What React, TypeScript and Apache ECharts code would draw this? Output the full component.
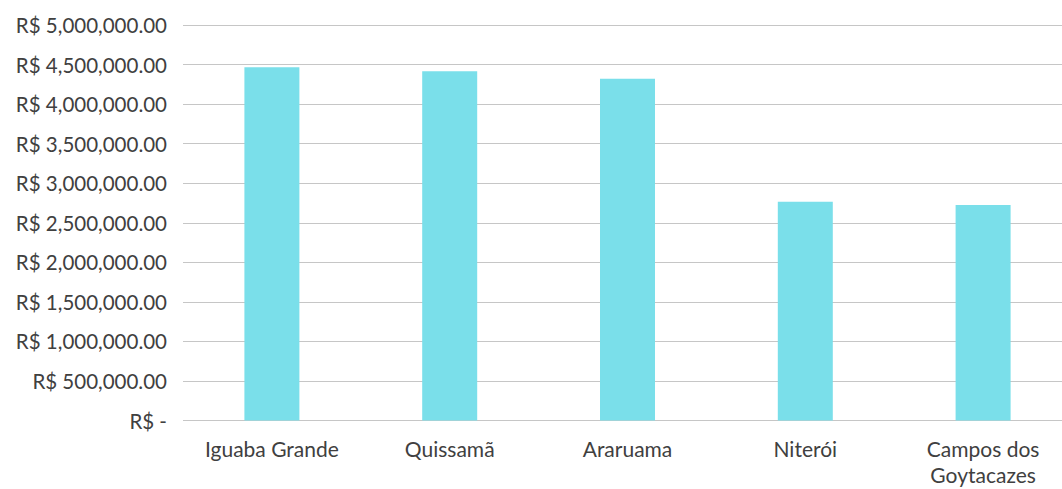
import React, { useEffect, useRef } from "react";
import * as echarts from "echarts";

const categories = ["Iguaba Grande", "Quissamã", "Araruama", "Niterói", "Campos dos\nGoytacazes"];
const values = [4465000, 4415000, 4320000, 2766000, 2724000];
const yTicks = [0, 500000, 1000000, 1500000, 2000000, 2500000, 3000000, 3500000, 4000000, 4500000, 5000000];

const fmt = (v: number) =>
  v === 0
    ? "R$ -"
    : "R$ " + v.toLocaleString("en-US", { minimumFractionDigits: 2, maximumFractionDigits: 2 });

export default function App() {
  const ref = useRef<HTMLDivElement>(null);
  useEffect(() => {
    if (!ref.current) return;
    const chart = echarts.init(ref.current, undefined, { renderer: "svg" });
    chart.setOption({
      animation: false,
      backgroundColor: "#ffffff",
      grid: {
        left: 183,
        right: -10,
        top: 25,
        bottom: 68.5,
        containLabel: false,
        outerBoundsMode: "none",
      },
      xAxis: {
        type: "category",
        data: categories,
        axisLine: { show: false },
        axisTick: { show: false },
        axisLabel: {
          color: "#404040",
          fontSize: 21,
          fontFamily: "Lato",
          margin: 15,
          lineHeight: 26,
          interval: 0,
        },
      },
      yAxis: {
        type: "value",
        min: 0,
        max: yTicks[yTicks.length - 1],
        interval: 500000,
        axisLine: { show: false },
        axisTick: { show: false },
        splitLine: { lineStyle: { color: "#c6c6c6", width: 1 } },
        axisLabel: {
          color: "#404040",
          fontSize: 20.5,
          fontFamily: "Lato",
          margin: 16,
          formatter: (v: number) => fmt(v),
        },
      },
      series: [
        {
          type: "bar",
          data: values,
          barWidth: 55,
          itemStyle: { color: "#7adfea" },
        },
      ],
    });
    return () => chart.dispose();
  }, []);
  return (
    <div
      ref={ref}
      style={{ position: "absolute", left: 0, top: 0, width: 1062, height: 489 }}
    />
  );
}
